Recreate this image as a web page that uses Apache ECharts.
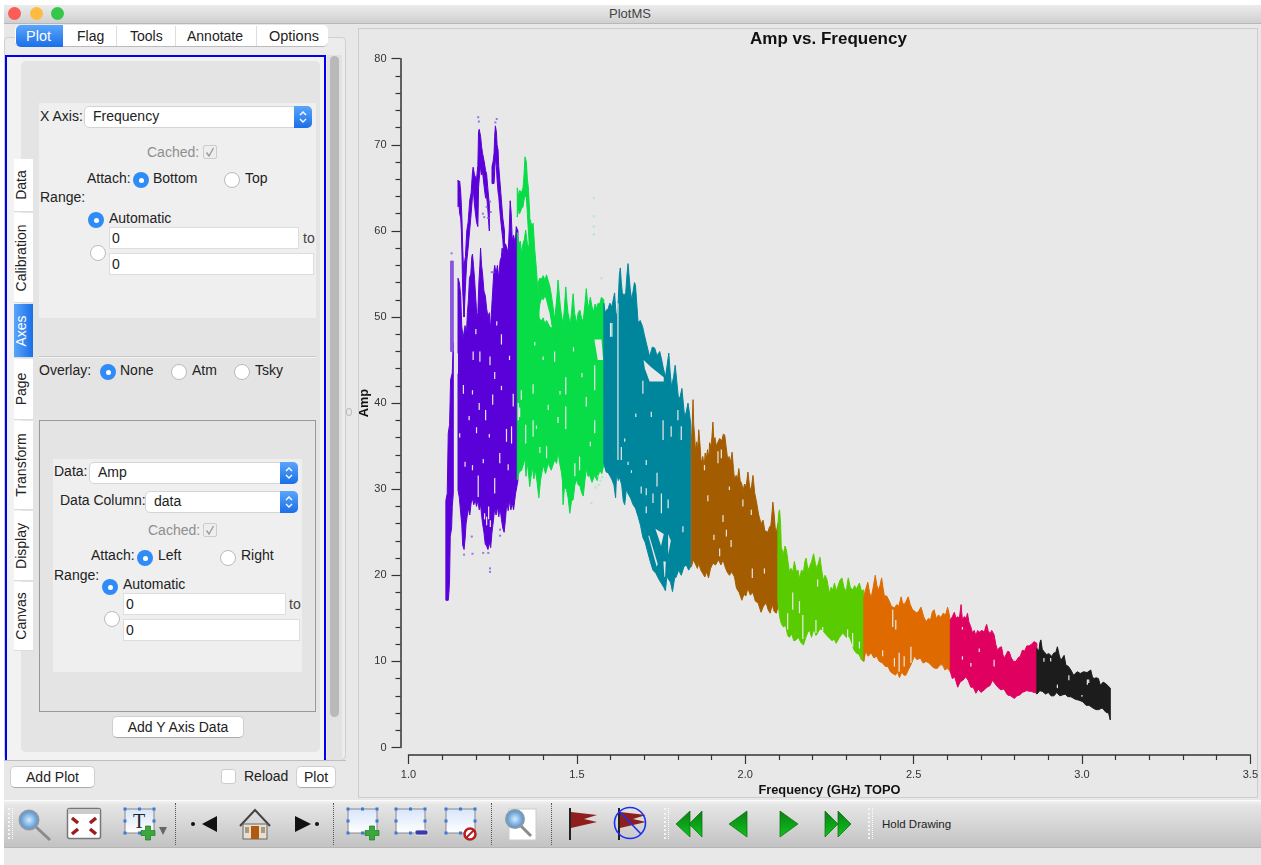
<!DOCTYPE html>
<html><head><meta charset="utf-8"><title>PlotMS</title>
<script src="https://cdn.jsdelivr.net/npm/echarts@6/dist/echarts.min.js"></script>
<style>
html,body{margin:0;padding:0;background:#fff;width:1261px;height:865px;overflow:hidden;font-family:"Liberation Sans",Arial,sans-serif;color:#222}
#gui,#chart{position:absolute;left:0;top:0;width:1261px;height:865px}
#chart{pointer-events:none}
.a{position:absolute;box-sizing:border-box}
.t{position:absolute;white-space:nowrap;font-size:14px;line-height:16px;transform:translateY(-50%)}
.btn{position:absolute;box-sizing:border-box;background:#fff;border-radius:5px;border:1px solid #cfcfcf;border-bottom:1.5px solid #aaa;font-size:14px;text-align:center;display:flex;align-items:center;justify-content:center}
.vt{position:absolute;box-sizing:border-box;left:14px;width:19px;background:#fff;border-bottom:1px solid #ddd;display:flex;align-items:center;justify-content:center;padding-right:5px}
.vt span{transform:rotate(-90deg);font-size:14px;white-space:nowrap;display:block}
svg{position:absolute;overflow:visible}
</style></head><body>
<div id="gui"></div><div id="chart"></div>
<script>
// ---------- axis ticks ----------
const xRange = [1.0, 3.5];
const yRange = [0, 80];

// ---------- spw 0 (purple) : envelopes [GHz, Amp] ----------
const purpleColor = '#5a00d8';
const purpleTailUpper = [[1.111,28.7],[1.115,29.5],[1.118,36.5],[1.122,37.5],[1.125,42.7],[1.13,43.5],[1.133,47]];
const purpleTailLower = [[1.111,17.1],[1.118,17.1],[1.12,18],[1.122,19.5],[1.124,24.5],[1.128,25.5],[1.13,28],[1.133,29.5]];
const purpleLightUpper = [[1.125,56.5],[1.133,56.5]];
const purpleLightLower = [[1.125,46],[1.133,46]];
const purpleBodyUpper = [[1.147,54.5],[1.151,54],[1.155,52.5],[1.158,49],[1.162,47.5],[1.168,49],[1.172,48],[1.175,50.5],[1.178,52],[1.181,54.5],[1.185,55],[1.188,57],[1.19,57.3],[1.193,56],[1.196,54.5],[1.2,52],[1.203,50],[1.206,50.5],[1.209,54],[1.212,56],[1.214,58],[1.217,56],[1.22,55],[1.224,53],[1.228,52.5],[1.232,51],[1.236,50],[1.24,50.5],[1.243,48.5],[1.247,51],[1.25,53],[1.253,55],[1.256,56],[1.26,55],[1.264,56],[1.268,54.5],[1.272,56.5],[1.276,57],[1.278,58],[1.282,57],[1.288,58.5],[1.292,58],[1.296,57.5],[1.299,60],[1.302,63.5],[1.305,62],[1.308,59],[1.312,59.5],[1.317,58.5],[1.32,60.5],[1.325,60]];
const purpleBodyLower = [[1.147,29.9],[1.151,29],[1.155,27.2],[1.158,26],[1.161,23.5],[1.165,23],[1.168,24.2],[1.171,26],[1.174,26.8],[1.178,27.8],[1.182,27],[1.186,28.4],[1.19,28.9],[1.194,28.2],[1.198,28.8],[1.202,28],[1.206,28.7],[1.21,27.6],[1.214,28.2],[1.217,27],[1.22,26],[1.224,25],[1.228,23.6],[1.232,23.4],[1.236,23],[1.24,23.8],[1.244,23.2],[1.248,25],[1.252,26.3],[1.256,27.8],[1.26,27],[1.264,28],[1.268,26.8],[1.272,27.8],[1.276,26.5],[1.28,25.5],[1.284,25],[1.288,26.5],[1.292,28.5],[1.296,27.5],[1.3,28.7],[1.304,27.6],[1.308,28.4],[1.312,27.6],[1.318,29.5],[1.325,31]];
const purpleRibbonAUpper = [[1.147,65.9],[1.149,65.5],[1.152,65.8],[1.155,64.5],[1.157,63],[1.159,61],[1.161,58],[1.165,54]];
const purpleRibbonALower = [[1.147,62.8],[1.15,63],[1.152,62],[1.155,61.5],[1.157,60],[1.159,57],[1.161,53],[1.165,50]];
const purpleRibbonBUpper = [[1.165,56],[1.169,57],[1.173,60],[1.177,61],[1.182,63.6],[1.186,64.4],[1.19,66.8],[1.192,67.4],[1.196,66.5],[1.202,66],[1.206,67.6],[1.208,71.5],[1.21,71.8],[1.214,71],[1.217,69.8],[1.22,69],[1.225,68],[1.229,67],[1.232,66.6],[1.235,65.2],[1.24,63]];
const purpleRibbonBLower = [[1.165,50],[1.169,53.5],[1.173,56.5],[1.177,58],[1.182,60.2],[1.186,62],[1.19,64],[1.192,65],[1.196,63],[1.202,61],[1.206,60.5],[1.208,65],[1.21,66],[1.214,67.5],[1.217,66.5],[1.22,66.8],[1.225,65],[1.229,63.8],[1.232,64],[1.235,62.8],[1.24,60]];
const purpleRibbonCUpper = [[1.248,67.5],[1.251,68],[1.254,69],[1.256,71],[1.258,72.2],[1.261,71.5],[1.263,70],[1.266,69.4],[1.268,67.5],[1.271,66],[1.274,64.5],[1.28,61.5],[1.285,60]];
const purpleRibbonCLower = [[1.248,65.5],[1.251,65.5],[1.254,65.5],[1.256,67],[1.258,68.5],[1.261,67.5],[1.263,66],[1.266,64.5],[1.268,64],[1.271,62.5],[1.274,61.2],[1.28,59],[1.285,56]];
const purpleDots = [[1.207,73.2],[1.209,72.7],[1.188,24.5],[1.19,22.5],[1.242,20.8],[1.242,20.4],[1.165,22.4],[1.222,22.6],[1.237,22.6],[1.272,25.3],[1.272,24.6],[1.128,57.4],[1.221,62],[1.225,61.6],[1.247,55.2],[1.252,55.2],[1.232,62.8],[1.236,61.5],[1.242,63.4],[1.244,62.2],[1.262,73],[1.258,72.6]];

// ---------- spw 1 (green) ----------
const greenColor = '#08dc46';
const greenBodyUpper = [[1.323,59.8],[1.328,58.5],[1.332,58.8],[1.336,57.4],[1.34,58.5],[1.344,59],[1.348,60.1],[1.353,58.5],[1.358,58],[1.362,61.3],[1.366,60.5],[1.37,60.9],[1.375,57.8],[1.38,55.5],[1.384,53],[1.388,49.9],[1.394,49.5],[1.4,49.9],[1.405,49.2],[1.41,49.6],[1.42,48.8],[1.429,48.7],[1.434,49.7],[1.439,51.6],[1.442,53],[1.444,54.3],[1.448,52.5],[1.451,51.2],[1.455,50],[1.459,49.3],[1.463,51],[1.467,53.5],[1.471,51.5],[1.474,50.4],[1.478,49.6],[1.481,49.3],[1.485,51],[1.489,52.7],[1.493,50.5],[1.499,49.3],[1.504,50.5],[1.509,50.8],[1.514,49.8],[1.519,49.6],[1.524,51.5],[1.528,53.3],[1.531,52],[1.533,51],[1.537,51.6],[1.54,52.3],[1.545,51.2],[1.55,50.6],[1.554,51.5],[1.558,51],[1.563,51.6],[1.568,51.5],[1.573,52.3],[1.58,52]];
const greenBodyLower = [[1.323,31.1],[1.329,32],[1.336,32.2],[1.342,33],[1.346,33.6],[1.349,31.5],[1.352,33.2],[1.356,32],[1.36,30.3],[1.364,31.5],[1.368,32.6],[1.372,31.2],[1.377,32.2],[1.382,30.8],[1.387,29],[1.392,31],[1.4,32.8],[1.407,31.8],[1.415,33],[1.424,32.2],[1.434,33.4],[1.44,33],[1.444,34.4],[1.449,33],[1.454,32],[1.457,31],[1.459,28.2],[1.463,30.2],[1.469,30],[1.474,29],[1.479,27.2],[1.484,28.6],[1.489,28.8],[1.494,30.5],[1.499,31.1],[1.504,30.5],[1.509,30.4],[1.514,29.6],[1.519,29.2],[1.524,31],[1.528,32.4],[1.533,31.5],[1.538,31.6],[1.545,30.8],[1.553,31.6],[1.56,31],[1.568,32.2],[1.574,31.8],[1.58,32.8]];
const greenPeakUpper = [[1.323,65],[1.327,64],[1.33,64.7],[1.336,64.5],[1.34,65],[1.343,66.5],[1.346,68.6],[1.35,68],[1.353,66],[1.356,65],[1.36,62]];
const greenPeakLower = [[1.323,61.6],[1.327,62.5],[1.33,62],[1.336,62.6],[1.34,62.8],[1.343,63.6],[1.346,64],[1.35,64],[1.353,62],[1.356,60],[1.36,57.5]];
const greenArcUpper = [[1.385,54],[1.39,54.5],[1.395,54.4],[1.4,54.8],[1.405,54.3],[1.41,54.9],[1.415,54.2],[1.42,53.5],[1.424,52.6],[1.429,51.2],[1.434,49.7],[1.44,49]];
const greenArcLower = [[1.385,50],[1.39,51.5],[1.395,52.2],[1.4,52],[1.405,52.5],[1.41,52],[1.415,51.2],[1.42,50.5],[1.424,49.6],[1.429,48.3],[1.434,47.5],[1.44,47]];
const greenDots = [[1.55,63.8],[1.55,61.7],[1.55,60.5],[1.55,59.6],[1.573,54.5],[1.543,28.4],[1.563,31.5],[1.57,31],[1.575,31.4],[1.565,30.5],[1.556,30.2]];

// ---------- spw 2 (teal) ----------
const tealColor = '#00869c';
const tealUpper = [[1.58,51.6],[1.584,50.5],[1.588,50.8],[1.593,51],[1.598,51.6],[1.604,51.2],[1.609,52.2],[1.612,52.8],[1.616,50.5],[1.619,50],[1.623,52],[1.626,54.8],[1.629,55.7],[1.632,54],[1.635,52.8],[1.64,52.5],[1.645,52.8],[1.649,55],[1.652,56.2],[1.655,54.8],[1.659,53],[1.663,52],[1.667,53],[1.671,54],[1.674,53.7],[1.678,51.5],[1.682,49.3],[1.688,49.6],[1.695,48.9],[1.7,48],[1.706,47],[1.711,46.2],[1.716,45.4],[1.724,46.5],[1.731,46.4],[1.738,45.5],[1.746,46],[1.752,45],[1.756,44.2],[1.763,43],[1.768,44.4],[1.773,45.8],[1.777,43.6],[1.781,41.9],[1.787,43],[1.792,44.4],[1.797,42.4],[1.802,40.4],[1.807,40.8],[1.812,41.7],[1.816,40],[1.82,38.4],[1.825,39],[1.83,40],[1.835,38.6],[1.838,37.6]];
const tealLower = [[1.58,33],[1.587,32],[1.593,31.9],[1.603,31.2],[1.61,30.5],[1.615,29],[1.618,31.9],[1.623,31],[1.627,31.4],[1.633,30.5],[1.638,28.6],[1.642,28.2],[1.647,30],[1.652,29.5],[1.659,29],[1.667,28.2],[1.674,27.8],[1.682,26.8],[1.689,25.8],[1.696,24.4],[1.703,23.8],[1.711,22.6],[1.718,21.6],[1.726,20.6],[1.735,20.2],[1.744,19.5],[1.752,19],[1.758,18.6],[1.763,18.2],[1.767,19.8],[1.771,19.6],[1.778,19.2],[1.784,18.1],[1.79,19.6],[1.795,19.8],[1.802,20.6],[1.81,20],[1.818,21],[1.825,21.2],[1.832,20.6],[1.838,21]];

// ---------- spw 3 (brown) ----------
const brownColor = '#a35d00';
const brownUpper = [[1.84,35.4],[1.843,38],[1.845,40.4],[1.847,37.5],[1.85,36],[1.852,34.5],[1.856,35.5],[1.859,34.6],[1.862,36.9],[1.866,35],[1.869,33],[1.874,33.8],[1.878,32.6],[1.881,34.2],[1.884,33.4],[1.888,34.6],[1.892,33.6],[1.894,35.4],[1.898,35],[1.901,36],[1.904,37.8],[1.907,35.5],[1.91,36],[1.914,35],[1.918,35.4],[1.924,35.9],[1.93,35.6],[1.935,36.4],[1.939,36.3],[1.943,35],[1.948,33.4],[1.952,33.8],[1.957,33.2],[1.961,34.3],[1.965,32.4],[1.968,31.2],[1.973,31.6],[1.977,31.2],[1.981,32.4],[1.985,31],[1.99,30.6],[1.993,29.8],[1.998,30.6],[2.003,30.4],[2.008,32],[2.012,30.6],[2.015,29.8],[2.019,30.4],[2.023,31.6],[2.028,29.6],[2.034,28.4],[2.04,27],[2.047,26],[2.053,26.4],[2.058,25.2],[2.067,25],[2.072,25.6],[2.076,25.8],[2.079,27],[2.082,28.5],[2.086,27],[2.089,25.5],[2.092,24.9],[2.097,26]];
const brownLower = [[1.84,21],[1.846,21.8],[1.852,21.3],[1.858,20.8],[1.862,21.4],[1.868,20.6],[1.874,20.2],[1.88,19.8],[1.885,20.4],[1.891,19.7],[1.897,20.8],[1.904,21.4],[1.912,21.2],[1.92,21.8],[1.928,21.2],[1.934,21.8],[1.94,21],[1.946,20.4],[1.953,20],[1.96,20.4],[1.968,19.8],[1.974,18.5],[1.982,18],[1.99,17.1],[1.996,17.8],[2.002,17.6],[2.008,18.5],[2.015,17.7],[2.023,18],[2.03,17],[2.038,16.8],[2.047,15.7],[2.054,16.4],[2.062,16.8],[2.068,16],[2.074,15.6],[2.08,16.6],[2.086,15.8],[2.092,15.6],[2.097,16.3]];

// ---------- spw 4 (lime) ----------
const limeColor = '#58cc00';
const limeUpper = [[2.097,26],[2.1,27.4],[2.102,27.6],[2.105,26],[2.107,23.3],[2.113,22.4],[2.118,23.4],[2.122,23],[2.127,21.6],[2.131,20.4],[2.136,20.8],[2.141,20.4],[2.146,21.6],[2.152,20.4],[2.157,20.6],[2.161,19.6],[2.167,20.6],[2.173,20.4],[2.177,21.6],[2.181,22],[2.186,20.6],[2.191,21],[2.197,21.6],[2.203,22.5],[2.208,21.4],[2.212,20.8],[2.217,21.4],[2.222,22.1],[2.227,20.6],[2.232,19.4],[2.237,20],[2.242,19.6],[2.246,18.8],[2.25,17.9],[2.255,18.6],[2.26,18.3],[2.265,19.1],[2.27,18.2],[2.276,18.8],[2.281,19.4],[2.287,19.7],[2.293,18.6],[2.3,18.1],[2.303,19],[2.306,19.7],[2.312,18.6],[2.319,18.3],[2.325,18.8],[2.33,18.4],[2.339,19.1],[2.345,18.2],[2.352,18.3]];
const limeLower = [[2.097,17.1],[2.102,15.2],[2.107,14.4],[2.113,14],[2.12,14.2],[2.126,13],[2.131,12.8],[2.138,13.2],[2.144,12.4],[2.151,12.5],[2.158,12.8],[2.165,12.2],[2.173,11.9],[2.18,12.8],[2.186,13.4],[2.191,13.6],[2.197,12.8],[2.204,13.8],[2.21,13],[2.215,13.3],[2.222,13.8],[2.23,13.6],[2.238,13.2],[2.25,12.7],[2.258,12.4],[2.264,12.6],[2.27,12.1],[2.28,12.8],[2.29,13.3],[2.3,12.8],[2.309,12.9],[2.316,12.2],[2.322,11.4],[2.329,11],[2.338,10.8],[2.345,10.2],[2.352,10]];

// ---------- spw 5 (orange) ----------
const orangeColor = '#df6b00';
const orangeUpper = [[2.352,17.5],[2.358,18.4],[2.364,19.2],[2.369,18],[2.374,17.4],[2.38,18.6],[2.386,20],[2.391,18.8],[2.395,18.3],[2.4,18.8],[2.405,19.7],[2.409,18.6],[2.413,17.6],[2.42,17.6],[2.428,17],[2.434,16.4],[2.443,16.2],[2.45,16.6],[2.456,16.4],[2.463,17.5],[2.467,16.8],[2.472,16.6],[2.478,17],[2.484,17.5],[2.49,16.6],[2.497,16],[2.504,15.8],[2.51,15.6],[2.516,15.9],[2.522,16.3],[2.53,15.2],[2.537,14.6],[2.544,15],[2.55,14.8],[2.556,15.8],[2.561,16],[2.567,15],[2.574,15.4],[2.581,15.1],[2.588,15.6],[2.595,15.4],[2.601,16.3],[2.605,15.6],[2.609,14.8]];
const orangeLower = [[2.352,10],[2.358,11.2],[2.365,10.6],[2.374,11],[2.382,10.4],[2.39,10.6],[2.398,10],[2.408,9.8],[2.416,9.4],[2.424,9.4],[2.431,8.8],[2.438,8.6],[2.446,8.4],[2.452,8.8],[2.458,8.1],[2.465,8.8],[2.471,8.4],[2.477,8.4],[2.484,9],[2.492,9.6],[2.502,10.6],[2.51,10.2],[2.52,10.4],[2.528,9.8],[2.537,10],[2.546,9.8],[2.555,9.4],[2.563,9.2],[2.571,9.2],[2.578,9.6],[2.586,9.6],[2.593,9],[2.6,9.2],[2.609,8.8]];

// ---------- spw 6 (pink) ----------
const pinkColor = '#e0005f';
const pinkUpper = [[2.609,14.8],[2.615,15.2],[2.621,15.7],[2.626,15],[2.631,15.2],[2.636,15],[2.639,16],[2.641,16.6],[2.643,15.6],[2.645,14.8],[2.65,15.2],[2.656,15],[2.66,15.6],[2.664,14.6],[2.67,14],[2.675,13.3],[2.68,13.6],[2.685,13],[2.69,13.6],[2.695,13.4],[2.703,13.6],[2.71,13.4],[2.714,14],[2.717,14.3],[2.721,13.6],[2.727,13.2],[2.732,13.6],[2.739,13.1],[2.744,12],[2.749,11.3],[2.755,11.6],[2.761,11.7],[2.765,10.8],[2.769,10.4],[2.775,10.8],[2.78,11.2],[2.784,11.1],[2.79,10.4],[2.797,10],[2.804,10],[2.81,10.4],[2.817,10.6],[2.823,11.3],[2.83,11.2],[2.836,11.8],[2.843,11.8],[2.85,12],[2.858,12.3],[2.866,12.1]];
const pinkLower = [[2.609,8.8],[2.615,8],[2.622,8.2],[2.631,7],[2.638,7.6],[2.646,7.8],[2.655,8.2],[2.662,7.8],[2.67,7],[2.677,7],[2.685,6.3],[2.692,6.8],[2.7,6.4],[2.71,6.7],[2.718,7],[2.727,7.2],[2.734,7.8],[2.742,7.4],[2.75,7],[2.759,6.7],[2.768,6.8],[2.779,6.1],[2.788,6],[2.799,5.7],[2.807,6],[2.815,6.1],[2.823,6.4],[2.835,6.6],[2.85,6.5],[2.866,6.3]];

// ---------- spw 7 (black) ----------
const blackColor = '#1c1c1c';
const blackUpper = [[2.866,11.5],[2.872,11.2],[2.875,12.2],[2.878,12.5],[2.882,11.4],[2.888,11.1],[2.895,10.8],[2.902,10.9],[2.91,10.6],[2.917,11],[2.922,11],[2.927,11.7],[2.932,10.8],[2.937,10.1],[2.942,10.4],[2.947,10.7],[2.952,9.6],[2.96,9.4],[2.967,9],[2.975,8.4],[2.986,8.8],[2.995,8.6],[3.005,8.8],[3.015,8.7],[3.026,9],[3.031,8.2],[3.036,8],[3.042,8.1],[3.049,8],[3.053,7.4],[3.056,7.3],[3.063,7.6],[3.071,7.4],[3.084,6.9]];
const blackLower = [[2.866,6.2],[2.875,6.6],[2.883,6.5],[2.892,6.2],[2.9,6.4],[2.908,6],[2.917,6],[2.925,6.4],[2.934,6],[2.942,6.1],[2.95,6.2],[2.958,5.9],[2.967,5.9],[2.98,5.6],[2.991,5.5],[3.003,5.3],[3.012,4.9],[3.021,4.9],[3.032,4.6],[3.041,4.4],[3.05,4.4],[3.06,4.6],[3.071,4.1],[3.079,4],[3.084,3.2]];

// ---------- empty pockets inside the clouds ----------
const bgColor = '#e8e8e8';
const holeGreenUpper = [[1.552,47.4],[1.573,47.4],[1.578,45]];
const holeGreenLower = [[1.552,47.4],[1.562,45],[1.578,45]];
const holeTealAUpper = [[1.698,45],[1.72,44.2],[1.758,43]];
const holeTealALower = [[1.698,45],[1.702,44],[1.716,42.5],[1.758,42.5]];
const holeTealBUpper = [[1.733,25.4],[1.758,24.8]];
const holeTealBLower = [[1.733,25.4],[1.742,24.4],[1.75,23.4],[1.758,24.8]];
const holeTealCUpper = [[1.712,24.6],[1.715,24.6],[1.74,21.3]];
const holeTealCLower = [[1.712,24.6],[1.737,21],[1.74,21.3]];
const holeTealDUpper = [[1.757,21.6],[1.764,21.6]];
const holeTealDLower = [[1.757,21.6],[1.76,19.8],[1.762,19.8],[1.764,21.6]];
const holeTealEUpper = [[1.771,24.8],[1.779,24]];
const holeTealELower = [[1.771,24.8],[1.771,22.4],[1.779,24]];
const purpleGaps = [[1.145,43.4,45.8],[1.192,45,46],[1.212,44.8,46],[1.242,44.4,45.4],[1.256,42.8,43.6],[1.276,46.8,48],[1.311,39.6,41.1],[1.306,35.3,37.3],[1.291,35.5,37],[1.271,33,34.2],[1.229,38,39.2],[1.21,39.2,40],[1.25,39.8,41],[1.19,32.2,32.8],[1.168,32.6,33.2],[1.296,32.2,32.9],[1.207,29.1,31.6],[1.256,29.5,31.3],[1.163,41.1,42.1],[1.202,36.5,37.2],[1.226,26.5,27.2],[1.232,25.8,26.8],[1.238,26.5,28],[1.243,25.6,26.4],[1.18,38,38.5],[1.24,36,36.4],[1.276,41.5,42],[1.3,45,45.5],[1.2,48,48.6],[1.262,49,49.5],[1.222,33,33.5],[1.19,41,41.5],[1.152,36,36.5]];
const greenGaps = [[1.335,40.4,41.5],[1.326,38,40],[1.33,38.4,39.5],[1.37,41.1,42.2],[1.348,35.3,37.5],[1.375,46.7,47.1],[1.434,44.8,46],[1.467,41,43],[1.467,37,39.6],[1.415,39.2,39.8],[1.444,37.7,38.4],[1.37,36.1,38],[1.528,39.6,40.7],[1.553,41.5,44.4],[1.553,36.5,38],[1.41,33.6,35],[1.494,31.5,33],[1.508,32.2,33.8],[1.39,34.2,34.9],[1.4,45,45.4],[1.45,41,41.4],[1.49,46,46.5],[1.515,43,43.5],[1.38,37,37.4],[1.54,35,35.5]];
const tealGaps = [[1.622,33.4,51.6],[1.6,47.7,49.3],[1.604,47.7,49.3],[1.691,29.5,30.3],[1.706,29.3,30.1],[1.726,28.4,29.5],[1.771,27.8,28.8],[1.751,27.2,29.5],[1.738,30.3,31.9],[1.706,32.8,33.4],[1.675,38.4,38.8],[1.721,38.4,39],[1.696,41.1,42.6],[1.78,36.1,37.3],[1.756,35.7,38],[1.642,35.5,35.9],[1.652,32.8,33.2],[1.632,33.4,34.9],[1.662,31.9,32.2],[1.8,38,39.2],[1.81,35.7,37.3],[1.815,25,25.7],[1.706,27.2,28]];
const brownGaps = [[1.934,26.2,27],[1.929,33.6,34.6],[1.924,22.2,23.1],[2.021,19.7,20.8],[1.907,24.1,24.7],[1.958,23.3,24.1],[1.889,28.6,29.3],[1.993,28,28.8],[1.953,29.9,30.3],[2.018,27,27.6],[1.944,24.5,25.3],[2.057,20.2,20.8],[1.879,32.2,32.8],[1.919,33,34.4]];
const limeGaps = [[2.304,12.5,13.7],[2.319,11.7,13.3],[2.339,11.5,12.3],[2.141,16,18],[2.171,12.6,15.4],[2.161,15.6,17],[2.126,13.7,15.6],[2.21,13.3,14.8],[2.215,18.7,19.5],[2.23,13.5,14]];
const orangeGaps = [[2.438,14,16],[2.447,13.7,14.8],[2.457,8.8,11],[2.472,9.4,10.6],[2.492,9.8,11.7],[2.443,9.4,10.4],[2.408,10.6,11.3]];
const pinkGaps = [[2.645,13.7,14],[2.695,11.1,11.5],[2.739,9.4,10.2],[2.645,10.2,10.6],[2.67,9.4,9.8]];
const blackGaps = [[2.887,9.97,10.4],[2.907,10,10.4],[3.016,7.3,7.9],[3.02,7.5,7.9],[2.927,6.9,7.3],[2.961,7.8,8.4],[3,5.9,6.1]];

// ---------- chart ----------
function cloud(name, color, upper, lower, hole){
  const pts = upper.concat(lower.slice().reverse());
  return {type:'custom',name,silent:true,animation:false,clip:false,data:pts,encode:{x:0,y:1},
    renderItem(params, api){
      if(params.dataIndex!==0) return null;
      return {type:'polygon',shape:{points:pts.map(p=>api.coord(p))},style:hole?{fill:color}:{fill:color,stroke:color,lineWidth:1}};
    }};
}
function gaps(name, rows){
  return {type:'custom',name,silent:true,animation:false,clip:false,data:rows,encode:{x:0,y:[1,2]},
    renderItem(params, api){
      const f=api.value(0), a=api.coord([f-0.0018,api.value(2)]), b=api.coord([f+0.0018,api.value(1)]);
      return {type:'rect',shape:{x:a[0],y:a[1],width:b[0]-a[0],height:b[1]-a[1]},style:{fill:bgColor}};
    }};
}
function dots(name,color,rows){
  return {type:'scatter',name,silent:true,animation:false,data:rows,symbol:'rect',symbolSize:2,itemStyle:{color}};
}
const chart = echarts.init(document.getElementById('chart'),null,{width:1261,height:865});
const axisCommon = {axisLine:{show:true,onZero:false,lineStyle:{color:'#333',width:1.5}},axisTick:{show:true,length:9,lineStyle:{color:'#333',width:1.2}},
  minorTick:{show:true,splitNumber:5,length:5,lineStyle:{color:'#333',width:1.2}},splitLine:{show:false},minorSplitLine:{show:false},nameMoveOverlap:false,
  nameTextStyle:{fontFamily:'Liberation Sans',fontWeight:'bold',fontSize:12.8,color:'#111'},nameLocation:'middle'};
chart.setOption({
  backgroundColor:'transparent',animation:false,
  title:{text:'Amp vs. Frequency',left:823.5,top:26,textAlign:'center',textStyle:{fontFamily:'Liberation Sans',fontWeight:'bold',fontSize:17,color:'#111'}},
  grid:{left:408.5,right:9.5,top:58.7,bottom:117.5},
  xAxis:Object.assign({type:'value',min:xRange[0],max:xRange[1],interval:0.5,offset:7.5,name:'Frequency (GHz) TOPO',nameGap:29,
    axisLabel:{margin:14,fontFamily:'Liberation Sans',fontSize:11,color:'#333',formatter:v=>v.toFixed(1),showMinLabel:true,showMaxLabel:true}},axisCommon),
  yAxis:Object.assign({type:'value',min:yRange[0],max:yRange[1],interval:10,offset:8,name:'Amp',nameGap:30,nameRotate:90,
    axisLabel:{margin:14,fontFamily:'Liberation Sans',fontSize:11,color:'#333'}},axisCommon),
  series:[
    cloud('spw0 tail',purpleColor,purpleTailUpper,purpleTailLower),
    cloud('spw0 light','#8a55e0',purpleLightUpper,purpleLightLower),
    cloud('spw0 body',purpleColor,purpleBodyUpper,purpleBodyLower),
    cloud('spw0 a',purpleColor,purpleRibbonAUpper,purpleRibbonALower),
    cloud('spw0 b',purpleColor,purpleRibbonBUpper,purpleRibbonBLower),
    cloud('spw0 c',purpleColor,purpleRibbonCUpper,purpleRibbonCLower),
    cloud('spw1 body',greenColor,greenBodyUpper,greenBodyLower),
    cloud('spw1 peak',greenColor,greenPeakUpper,greenPeakLower),
    cloud('spw1 arc',greenColor,greenArcUpper,greenArcLower),
    cloud('spw2',tealColor,tealUpper,tealLower),
    cloud('spw3',brownColor,brownUpper,brownLower),
    cloud('spw4',limeColor,limeUpper,limeLower),
    cloud('spw5',orangeColor,orangeUpper,orangeLower),
    cloud('spw6',pinkColor,pinkUpper,pinkLower),
    cloud('spw7',blackColor,blackUpper,blackLower),
    cloud('hole g',bgColor,holeGreenUpper,holeGreenLower,true),
    cloud('hole ta',bgColor,holeTealAUpper,holeTealALower,true),
    cloud('hole tb',bgColor,holeTealBUpper,holeTealBLower,true),
    cloud('hole tc',bgColor,holeTealCUpper,holeTealCLower,true),
    cloud('hole td',bgColor,holeTealDUpper,holeTealDLower,true),
    cloud('hole te',bgColor,holeTealEUpper,holeTealELower,true),
    gaps('gaps0',purpleGaps),gaps('gaps1',greenGaps),gaps('gaps2',tealGaps),gaps('gaps3',brownGaps),
    gaps('gaps4',limeGaps),gaps('gaps5',orangeGaps),gaps('gaps6',pinkGaps),gaps('gaps7',blackGaps),
    dots('dots0','#8a55e0',purpleDots),dots('dots1','#9fe8b5',greenDots)
  ]
});

// ---------- application window around the plot ----------
const g = document.getElementById('gui');
let h = '';
const box=(x,y,w,ht,css)=>{h+=`<div class="a" style="left:${x}px;top:${y}px;width:${w}px;height:${ht}px;${css||''}"></div>`};
const txt=(x,cy,s,css)=>{h+=`<div class="t" style="left:${x}px;top:${cy}px;${css||''}">${s}</div>`};
const btn=(x,y,w,ht,s)=>{h+=`<div class="btn" style="left:${x}px;top:${y}px;width:${w}px;height:${ht}px">${s}</div>`};
const radio=(cx,cy,on)=>{h+= on?`<div class="a" style="left:${cx-8}px;top:${cy-8}px;width:16px;height:16px;border-radius:50%;background:#2f8bf5"><div class="a" style="left:5.5px;top:5.5px;width:5px;height:5px;border-radius:50%;background:#fff"></div></div>`
  :`<div class="a" style="left:${cx-8}px;top:${cy-8}px;width:16px;height:16px;border-radius:50%;background:#fff;border:1px solid #bbb"></div>`};
const combo=(x,y,w,s,tx)=>{box(x,y,w,22,'background:#fff;border-radius:5px;border:1px solid #d4d4d4');
  h+=`<div class="a" style="left:${x+w-18}px;top:${y}px;width:18px;height:22px;border-radius:0 5px 5px 0;background:linear-gradient(#5aa5fb,#1a6fe8)"><svg width="18" height="22" style="left:0;top:0"><path d="M6 9l3-3 3 3M6 13l3 3 3-3" fill="none" stroke="#fff" stroke-width="1.4"/></svg></div>`;
  txt(tx,y+10,s)};
const field=(x,y,w,ht)=>{box(x,y,w,ht,'background:#fff;border:1px solid #ddd');txt(x+3,y+ht/2,'0')};
const cached=(x,cbx,cy)=>{txt(x,cy,'Cached:','color:#8e8e8e');box(cbx,cy-7,14,14,'background:#eee;border:1px solid #ccc;border-radius:2px');
  h+=`<svg width="14" height="14" style="left:${cbx}px;top:${cy-7}px"><path d="M3.5 7.5l2.5 3.5 4.5-8" fill="none" stroke="#999" stroke-width="1.3"/></svg>`};

box(4,5,1257,860,'background:#e8e8e8');
box(4,5,1257,19,'background:linear-gradient(#ececec,#d0d0d0);border-radius:6px 6px 0 0;border-bottom:1px solid #b8b8b8');
[['#fc5b57',14],['#fdbc40',36],['#34c749',57]].forEach(c=>box(c[1]-6.5,6.5,13,13,`border-radius:50%;background:${c[0]}`));
txt(630,14,'PlotMS','font-size:13px;color:#444;transform:translate(-50%,-50%)');

// left pane
box(4,37,342,723,'background:#ececec;border:1px solid #d0d0d0;border-radius:4px');
box(7,57,317,703,'background:#f2f2f2');
box(5,55,321,706,'border:2px solid #0000f0;border-bottom:none');
box(21,61,299,691,'background:#e4e4e4;border-radius:5px');
box(327,55,15,705,'background:#e2e2e2');
box(330,56,9,661,'background:#b9b9b9;border-radius:5px');
box(4,760,342,1,'background:#bdbdbd');

// top tabs
box(15,25,313,22,'background:#fff;border-radius:5px;border-bottom:1.5px solid #bbb');
box(16,25,47,22,'background:linear-gradient(#5aa5fb,#1a6fe8);border-radius:5px 0 0 5px');
txt(26,36,'Plot','color:#fff;font-size:14.5px');txt(77,36,'Flag','font-size:14px');txt(130,36,'Tools','font-size:14px');txt(187,36,'Annotate','font-size:14px');txt(269,36,'Options','font-size:14.5px');
[116,175,256].forEach(x=>box(x,26,1,20,'background:#ddd'));

// side tabs
[['Data',159,53,0],['Calibration',213,90,0],['Axes',304,54,1],['Page',359,61,0],['Transform',421,89,0],['Display',511,70,0],['Canvas',582,69,0]].forEach(v=>{
  h+=`<div class="vt" style="top:${v[1]}px;height:${v[2]}px;${v[3]?'background:linear-gradient(90deg,#5aa5fb,#1a6fe8);':''}"><span style="${v[3]?'color:#fff':''}">${v[0]}</span></div>`;});

// x axis block
box(39,103,277,215,'background:#efefef');
txt(40,116,'X Axis:');combo(84,106,228,'Frequency',93);
cached(147,203,152);
txt(87,178,'Attach:');radio(141,180,1);txt(153,178,'Bottom');radio(232,180,0);txt(245,178,'Top');
txt(40,197,'Range:');radio(96,220,1);txt(109,218,'Automatic');
field(109,227,190,22);txt(303,238,'to','color:#444');radio(98,253,0);field(109,253,205,22);

box(39,356,277,1,'background:#c9c9c9');box(39,357,277,1,'background:#f3f3f3');
txt(39,370,'Overlay:');radio(108,372,1);txt(120,370,'None');radio(179,372,0);txt(192,370,'Atm');radio(242,372,0);txt(255,370,'Tsky');

// y axis block
box(39,420,277,292,'border:1px solid #999');
box(53,459,249,213,'background:#efefef');
txt(54,471,'Data:');combo(89,462,209,'Amp',98);
txt(60,500,'Data Column:');combo(145,491,153,'data',154);
cached(148,203,530);
txt(91,555,'Attach:');radio(145,558,1);txt(158,555,'Left');radio(228,558,0);txt(241,555,'Right');
txt(54,575,'Range:');radio(110,587,1);txt(123,584,'Automatic');
field(123,593,163,22);txt(289,604,'to','color:#444');radio(112,619,0);field(123,619,177,22);
btn(112,716,132,22,'Add Y Axis Data');
btn(10,766,85,22,'Add Plot');box(221,769,15,15,'background:#fff;border:1px solid #ccc;border-radius:3px');txt(244,776,'Reload');btn(296,766,40,22,'Plot');

// plot panel
box(358,28,900,770,'background:#e8e8e8;border:1px solid #cdcdcd');
box(346,408,6,8,'border:1px solid #bbb;border-radius:50%');

// toolbar
box(4,800,1257,48,'background:linear-gradient(#f2f2f2 0,#e6e6e6 8%,#c2c2c2 100%);border-top:1px solid #fbfbfb;border-bottom:1px solid #b5b5b5');
box(4,848,1257,17,'background:#e8e8e8');
[175,333,491,551].forEach(x=>box(x,803,1,42,'border-left:1px dotted #555'));
[9,665,869].forEach(x=>box(x-1,808,5,31,'border-left:2px dotted #f4f4f4;border-right:1px dotted #fff'));
txt(882,824,'Hold Drawing','font-size:11.5px;color:#222');

const sel=(x,y,w,ht,extra)=>`<rect x="${x}" y="${y}" width="${w}" height="${ht}" fill="url(#pane)" stroke="#888"/>`+
 [[x,y],[x+w/2,y],[x+w,y],[x,y+ht/2],[x+w,y+ht/2],[x,y+ht],[x+w/2,y+ht]].map(p=>`<rect x="${p[0]-1.5}" y="${p[1]-1.5}" width="3" height="3" fill="#3b79d8"/>`).join('')+(extra||'');
const plus=(x,y)=>`<path d="M${x-2.5} ${y-7}h5v4.5h4.5v5h-4.5v4.5h-5v-4.5h-4.5v-5h4.5z" fill="#3aa83a" stroke="#1f7a1f" stroke-width=".7"/>`;
const tri=(pts)=>`<polygon points="${pts}" fill="url(#grn)" stroke="#0b6b0b" stroke-width=".7"/>`;
const flag=(x)=>`<rect x="${x}" y="808" width="2" height="32" fill="#222"/><path d="M${x+2} 812l26 3-13 4 13 3-26 6z" fill="#8f1f1f"/>`;
h+=`<svg width="1261" height="865" style="left:0;top:0"><defs>
<linearGradient id="pane" x1="0" y1="0" x2="0" y2="1"><stop offset="0" stop-color="#d8e6fa"/><stop offset="1" stop-color="#fff"/></linearGradient>
<linearGradient id="grn" x1="0" y1="0" x2="0" y2="1"><stop offset="0" stop-color="#0d7f1c"/><stop offset="1" stop-color="#0cc417"/></linearGradient>
<radialGradient id="lens"><stop offset="0" stop-color="#d2ecff"/><stop offset="1" stop-color="#4f8fd0"/></radialGradient></defs>
<circle cx="29" cy="820" r="9.5" fill="url(#lens)" stroke="#8a9aa8" stroke-width="2"/><path d="M36 827l14 13" stroke="#8b8b8b" stroke-width="3"/>
<rect x="67.5" y="808.5" width="33" height="30" rx="2" fill="#fff" stroke="#777" stroke-width="1.5"/><rect x="68" y="809" width="32" height="5" fill="#ccc"/>
<path d="M72 818l6 5M96 818l-6 5M72 834l6-5M96 834l-6-5" stroke="#9c1d1d" stroke-width="3.5"/>
${sel(125,809,29,24)}<text x="133" y="828" font-family="Liberation Serif" font-size="20" fill="#222">T</text>${plus(148,833)}<polygon points="159,827 167,827 163,835" fill="#666"/>
<circle cx="193" cy="824" r="2" fill="#111"/><polygon points="202,824 217,816 217,832" fill="#111"/>
<path d="M240 826l15-16 15 16" fill="none" stroke="#444" stroke-width="2"/><rect x="243" y="824" width="24" height="15" fill="#e8dfce" stroke="#666"/><rect x="251" y="826" width="8" height="13" fill="#b05a10"/><rect x="245" y="827" width="4" height="6" fill="#a89a80"/><rect x="261" y="827" width="4" height="6" fill="#a89a80"/>
<polygon points="295,816 295,832 311,824" fill="#111"/><circle cx="317" cy="824" r="2" fill="#111"/>
${sel(348,809,29,24)}${plus(372,833)}
${sel(396,809,29,24)}<rect x="415" y="830" width="13" height="5" rx="2" fill="#3a3aa8" stroke="#fff" stroke-width=".7"/>
${sel(446,809,29,24)}<circle cx="470" cy="834" r="5.5" fill="#fff" stroke="#b51e1e" stroke-width="2.5"/><path d="M466 838l8-8" stroke="#b51e1e" stroke-width="2"/>
<rect x="509" y="809" width="27" height="31" fill="#fff" stroke="#ccc"/><circle cx="515" cy="819" r="9" fill="url(#lens)" stroke="#8a9aa8" stroke-width="2"/><path d="M521 826l10 10" stroke="#8b8b8b" stroke-width="3"/>
${flag(569)}${flag(618)}<circle cx="630" cy="823" r="15.5" fill="none" stroke="#1c2ff0" stroke-width="1.6"/><path d="M620 812l21 22" stroke="#1c2ff0" stroke-width="1.6"/>
${tri('676,824 690,811 690,837')}${tri('689,824 702,811 702,837')}${tri('729,824 747,811 747,837')}${tri('780,811 798,824 780,837')}${tri('825,811 838,824 825,837')}${tri('838,811 851,824 838,837')}
</svg>`;
g.innerHTML = h;
</script></body></html>
